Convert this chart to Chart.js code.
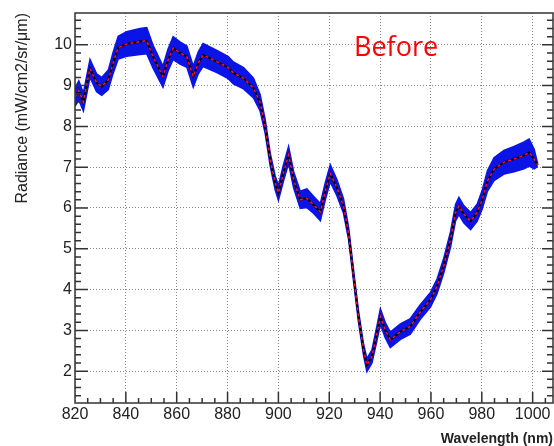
<!DOCTYPE html>
<html lang="en">
<head>
    <meta charset="UTF-8">
    <title>Radiance - Before</title>
    <script src="https://cdn.jsdelivr.net/npm/chart.js"></script>
    <style>
        body, html {
            margin: 0;
            padding: 0;
            background: white;
        }
        canvas {
            display: block;
        }
    </style>
</head>
<body>
<canvas id="radianceChart" width="554" height="446"></canvas>

<script>
    // Values
    const wavelengths = [820, 821.5, 823.3, 825.9, 828.5, 830.5, 833.1, 835, 837, 840.3, 845.6, 848.2, 850.7,
        854.6, 856.6, 858.6, 861.3, 864, 866.5, 868.5, 870.4, 875.8, 880.3, 882.3, 886.3, 890.2, 892.8,
        894.8, 896.8, 898.7, 900, 902, 904, 906, 908.6, 911.2, 913.8, 916.5, 918.4, 920.4, 923, 925.6,
        927.6, 929.6, 931.5, 933.5, 934.8, 936.8, 938.8, 940.1, 942, 944, 948, 951.9, 955.8, 959.8,
        962.4, 965, 967.7, 969.7, 971, 972.9, 975.6, 978.2, 980.2, 982.2, 984.8, 988.7, 992.7, 996.6,
        998.6, 1000.6, 1002];
    const radiance = [8.72, 8.88, 8.60, 9.42, 9.07, 8.98, 9.14, 9.56, 9.93, 10.02, 10.08, 10.10, 9.71,
        9.22, 9.63, 9.92, 9.80, 9.71, 9.22, 9.56, 9.75, 9.59, 9.44, 9.31, 9.18, 8.94, 8.58,
        8.00, 7.18, 6.62, 6.37, 6.86, 7.30, 6.69, 6.20, 6.24, 6.08, 5.90, 6.40, 6.85, 6.50, 6.05,
        5.38, 4.32, 3.34, 2.52, 2.15, 2.36, 2.94, 3.34, 3.01, 2.77, 2.97, 3.10, 3.45, 3.75,
        4.08, 4.58, 5.23, 5.89, 6.05, 5.85, 5.68, 5.89, 6.21, 6.66, 6.95, 7.12, 7.20, 7.29,
        7.36, 7.20, 7.05];
    // half width of the blue spread band
    const spread = [0.22, 0.24, 0.22, 0.22, 0.22, 0.22, 0.24, 0.26, 0.28, 0.30, 0.32, 0.32, 0.28,
        0.26, 0.27, 0.28, 0.27, 0.26, 0.26, 0.27, 0.28, 0.27, 0.27, 0.27, 0.26, 0.24, 0.20,
        0.17, 0.16, 0.17, 0.18, 0.20, 0.21, 0.20, 0.21, 0.23, 0.21, 0.21, 0.21, 0.21, 0.20, 0.18,
        0.15, 0.14, 0.14, 0.14, 0.16, 0.16, 0.18, 0.19, 0.19, 0.19, 0.19, 0.19, 0.18, 0.18,
        0.18, 0.18, 0.19, 0.20, 0.21, 0.21, 0.21, 0.21, 0.23, 0.25, 0.28, 0.29, 0.31, 0.33,
        0.33, 0.24, 0.03];

    const xTickLabels = [820, 840, 860, 880, 900, 920, 940, 960, 980, 1000];
    const yTickLabels = [2, 3, 4, 5, 6, 7, 8, 9, 10];

    const centre = wavelengths.map((w, i) => ({ x: w, y: radiance[i] }));
    const upper = wavelengths.map((w, i) => ({ x: w, y: radiance[i] + spread[i] }));
    const lower = wavelengths.map((w, i) => ({ x: w, y: radiance[i] - spread[i] }));

    const FONT = "'Liberation Sans', Arial, sans-serif";

    // ROOT-like frame, inward ticks and titles
    const framePlugin = {
        id: 'frame',
        afterDraw(chart) {
            const c = chart.ctx;
            const a = chart.chartArea;
            const xs = chart.scales.x;
            const ys = chart.scales.y;
            c.save();
            c.strokeStyle = '#333';
            c.lineWidth = 1.5;
            c.strokeRect(a.left, a.top, a.right - a.left, a.bottom - a.top);

            c.beginPath();
            for (let v = 1.4; v < ys.max; v += 0.2) {
                const val = Math.round(v * 10) / 10;
                const py = ys.getPixelForValue(val);
                const major = yTickLabels.includes(val);
                c.moveTo(a.left, py);
                c.lineTo(a.left + (major ? 13 : 6), py);
                c.moveTo(a.right, py);
                c.lineTo(a.right - (major ? 11 : 6), py);
            }
            for (let v = 825; v < xs.max; v += 5) {
                const px = xs.getPixelForValue(v);
                const major = xTickLabels.includes(v);
                c.moveTo(px, a.bottom);
                c.lineTo(px, a.bottom - (major ? 11 : 5));
            }
            c.stroke();

            // axis titles
            c.fillStyle = '#222';
            c.font = '16px ' + FONT;
            c.save();
            c.translate(23, a.top);
            c.rotate(-Math.PI / 2);
            c.textAlign = 'right';
            c.textBaseline = 'middle';
            c.fillText('Radiance (mW/cm2/sr/\u03bcm)', 0, 0);
            c.restore();

            c.font = 'bold 14px ' + FONT;
            c.textAlign = 'right';
            c.textBaseline = 'alphabetic';
            c.fillText('Wavelength (nm)', 553, 443);

            // label
            c.fillStyle = '#ff0000';
            c.font = "27px 'Open Sans', sans-serif";
            c.textAlign = 'left';
            c.fillText('Before', 354, 56);
            c.restore();
        }
    };

    const ctx = document.getElementById('radianceChart').getContext('2d');
    const radianceChart = new Chart(ctx, {
        type: 'line',
        data: {
            datasets: [
                {
                    label: 'fit',
                    data: centre,
                    borderColor: '#ff1030',
                    borderWidth: 1.5,
                    borderDash: [3, 3],
                    pointRadius: 0,
                    fill: false
                },
                {
                    label: 'mean',
                    data: centre,
                    borderColor: '#000000',
                    borderWidth: 2,
                    pointRadius: 0,
                    fill: false
                },
                {
                    label: 'upper',
                    data: upper,
                    borderColor: '#0a14e6',
                    backgroundColor: '#0a14e6',
                    borderWidth: 1.5,
                    pointRadius: 0,
                    fill: '+1'
                },
                {
                    label: 'lower',
                    data: lower,
                    borderColor: '#0a14e6',
                    borderWidth: 1.5,
                    pointRadius: 0,
                    fill: false
                }
            ]
        },
        options: {
            responsive: false,
            animation: false,
            devicePixelRatio: 1,
            layout: {
                padding: { top: 13, right: 1, left: 0, bottom: 0 }
            },
            scales: {
                x: {
                    type: 'linear',
                    min: 820,
                    max: 1008,
                    afterFit(scale) { scale.height = 43; },
                    afterBuildTicks(scale) {
                        scale.ticks = xTickLabels.map(v => ({ value: v }));
                    },
                    ticks: {
                        color: '#222',
                        font: { size: 16, family: FONT },
                        padding: 2,
                        maxRotation: 0,
                        callback: (v) => String(v)
                    },
                    grid: { color: '#888', lineWidth: 1, drawTicks: false },
                    border: { display: false, dash: [1, 2] }
                },
                y: {
                    type: 'linear',
                    min: 1.22,
                    max: 10.78,
                    afterFit(scale) { scale.width = 75; },
                    afterBuildTicks(scale) {
                        scale.ticks = yTickLabels.map(v => ({ value: v }));
                    },
                    ticks: {
                        color: '#222',
                        font: { size: 16, family: FONT },
                        padding: 3,
                        callback: (v) => String(v)
                    },
                    grid: { color: '#888', lineWidth: 1, drawTicks: false },
                    border: { display: false, dash: [1, 2] }
                }
            },
            plugins: {
                legend: { display: false },
                tooltip: { enabled: false },
                filler: { propagate: false }
            }
        },
        plugins: [framePlugin]
    });
</script>
</body>
</html>
